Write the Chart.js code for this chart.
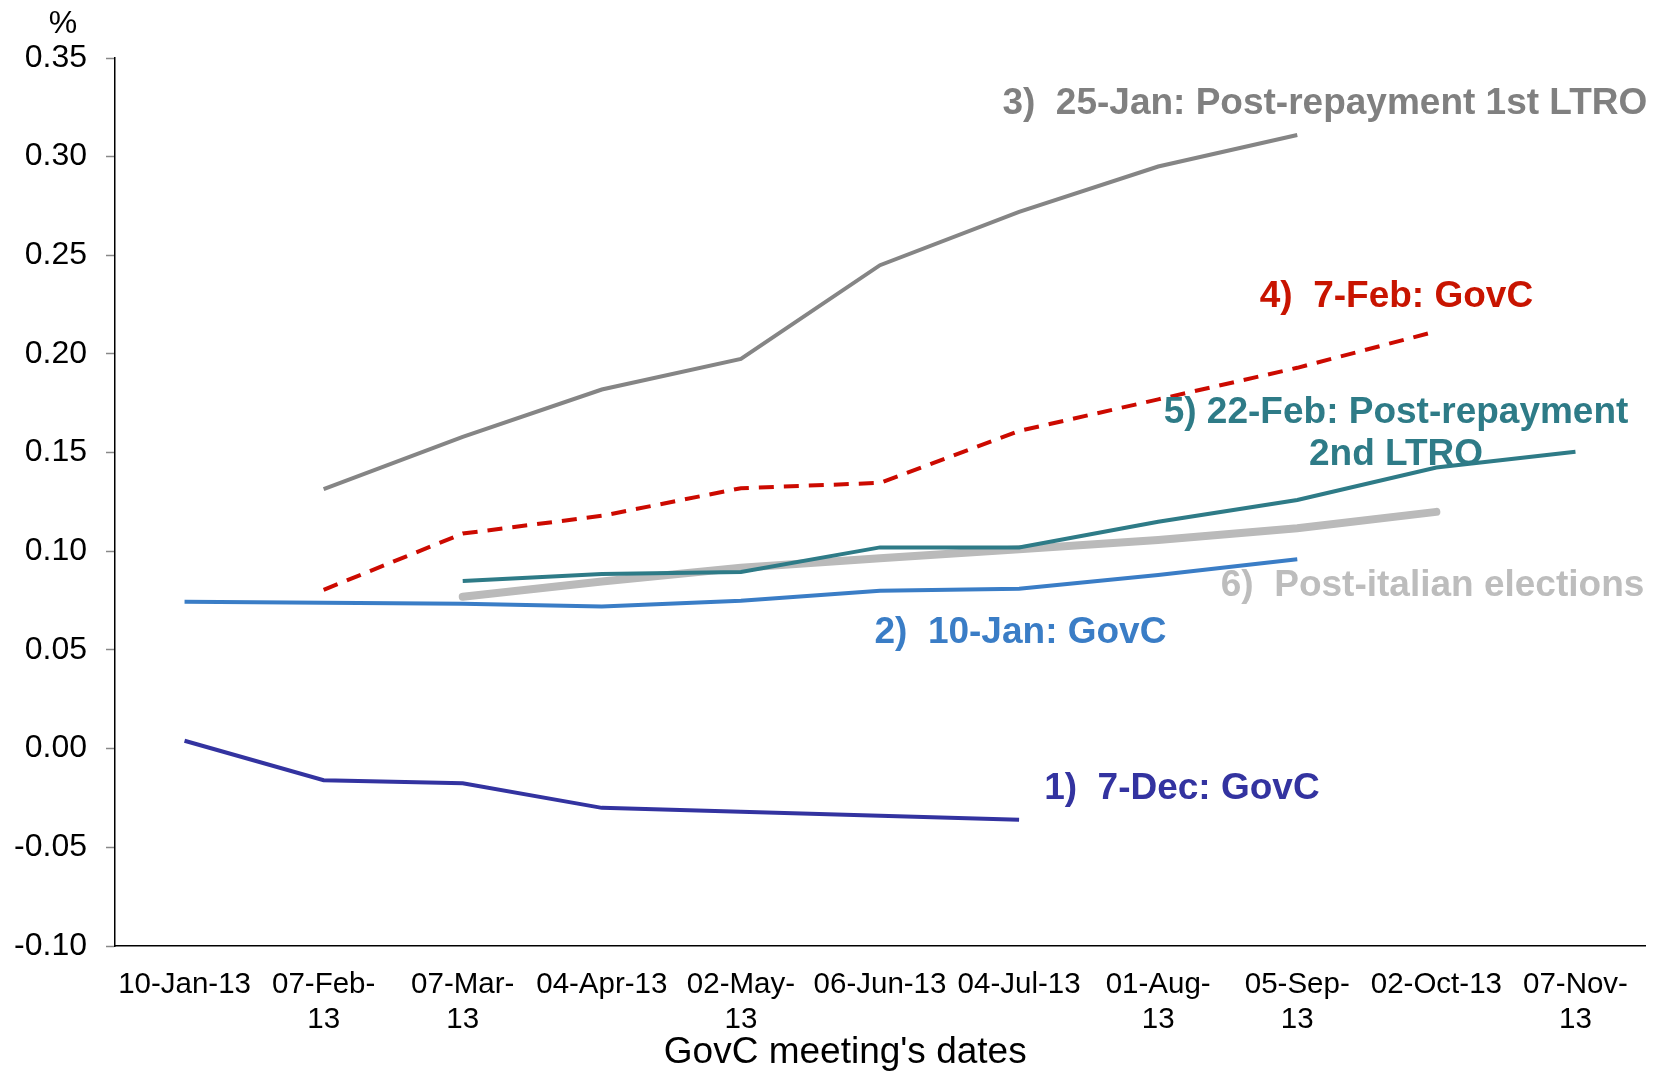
<!DOCTYPE html>
<html>
<head>
<meta charset="utf-8">
<script src="https://cdn.jsdelivr.net/npm/chart.js@4.4.1/dist/chart.umd.min.js"></script>
<style>
  html, body { margin: 0; padding: 0; background: #fff; }
  #wrap { width: 1661px; height: 1074px; }
</style>
</head>
<body>
<div id="wrap"><canvas id="chart"></canvas></div>
<script>
// GovC meeting dates (x axis)
const meetingDates = [
    '10-Jan-13', ['07-Feb-', '13'], ['07-Mar-', '13'], '04-Apr-13', ['02-May-', '13'],
    '06-Jun-13', '04-Jul-13', ['01-Aug-', '13'], ['05-Sep-', '13'], '02-Oct-13', ['07-Nov-', '13']
];

// series values (%)
const dec7GovC      = [0.004, -0.016, -0.0175, -0.030, -0.032, -0.034, -0.036, null, null, null, null];
const jan10GovC     = [0.0745, 0.074, 0.0735, 0.072, 0.075, 0.080, 0.081, 0.088, 0.096, null, null];
const jan25PostLtro = [null, 0.1315, 0.158, 0.182, 0.1975, 0.245, 0.272, 0.295, 0.311, null, null];
const feb7GovC      = [null, 0.0805, 0.109, 0.118, 0.132, 0.1347, 0.161, 0.177, 0.193, 0.2115, null];
const feb22PostLtro = [null, null, 0.085, 0.0885, 0.0895, 0.102, 0.102, 0.115, 0.126, 0.1425, 0.1505];
const postItalian   = [null, null, 0.077, 0.0847, 0.0917, 0.0965, 0.101, 0.1057, 0.1117, 0.120, null];

const yTicks = [-0.10, -0.05, 0.00, 0.05, 0.10, 0.15, 0.20, 0.25, 0.30, 0.35];

// in-chart labels: x as category index, y as value
const notes = [
    { lines: ['3)  25-Jan: Post-repayment 1st LTRO'], x: 5.88, y: 0.327, color: '#808080', align: 'left' },
    { lines: ['4)  7-Feb: GovC'], x: 7.73, y: 0.229, color: '#c81400', align: 'left' },
    { lines: ['5) 22-Feb: Post-repayment', '2nd LTRO'], x: 8.71, y: 0.170, color: '#2e7b87', align: 'center' },
    { lines: ['6)  Post-italian elections'], x: 7.45, y: 0.0825, color: '#bdbdbd', align: 'left' },
    { lines: ['2)  10-Jan: GovC'], x: 4.96, y: 0.0586, color: '#3a7dc6', align: 'left' },
    { lines: ['1)  7-Dec: GovC'], x: 6.18, y: -0.0204, color: '#3333a0', align: 'left' }
];
const xTitle = "GovC meeting's dates";

const FONT = "'Liberation Sans', Arial, sans-serif";

const notesPlugin = {
    id: 'notes',
    afterDatasetsDraw(chart) {
        const { ctx, scales: { x, y }, chartArea } = chart;
        ctx.save();
        ctx.font = 'bold 37px ' + FONT;
        ctx.textBaseline = 'middle';
        notes.forEach(n => {
            ctx.fillStyle = n.color;
            ctx.textAlign = n.align;
            const px = x.getPixelForValue(n.x);
            const py = y.getPixelForValue(n.y);
            n.lines.forEach((t, i) => ctx.fillText(t, px, py + i * 42));
        });
        ctx.fillStyle = '#000';
        ctx.textAlign = 'center';
        // unit label above the y axis
        ctx.font = '32px ' + FONT;
        ctx.fillText('%', chartArea.left - 52, chartArea.top - 34);
        // x axis title, sits a little left of the plot centre
        ctx.font = '37px ' + FONT;
        ctx.fillText(xTitle, x.getPixelForValue(4.75), chartArea.bottom + 107);
        ctx.restore();
    }
};

const line = (data, color, width, extra) => Object.assign({
    data, borderColor: color, borderWidth: width, pointRadius: 0, tension: 0,
    spanGaps: false, fill: false
}, extra || {});

new Chart(document.getElementById('chart'), {
    type: 'line',
    data: {
        labels: meetingDates,
        datasets: [
            line(dec7GovC, '#3333a0', 4, { order: 1 }),
            line(jan10GovC, '#3a7dc6', 4, { order: 2 }),
            line(jan25PostLtro, '#858585', 4, { order: 3 }),
            line(feb7GovC, '#cc0a00', 4, { order: 4, borderDash: [15, 10] }),
            line(feb22PostLtro, '#2e7b87', 4, { order: 5 }),
            line(postItalian, '#bababa', 8, { order: 6, borderCapStyle: 'round' })
        ]
    },
    options: {
        responsive: true,
        maintainAspectRatio: false,
        animation: false,
        layout: { padding: { top: 58, right: 16, left: 0, bottom: 0 } },
        plugins: { legend: { display: false }, tooltip: { enabled: false } },
        scales: {
            x: {
                offset: true,
                grid: { display: false },
                border: { display: true, color: '#000', width: 1.5 },
                ticks: {
                    color: '#000', font: { family: FONT, size: 29.5, lineHeight: 1.2 },
                    maxRotation: 0, autoSkip: false, padding: 13
                },
                afterFit: s => { s.height = 128; }
            },
            y: {
                min: -0.10, max: 0.35,
                afterBuildTicks: s => { s.ticks = yTicks.map(v => ({ value: v })); },
                grid: { drawOnChartArea: false, drawTicks: true, tickLength: 9, tickColor: '#888', tickWidth: 1.5 },
                border: { display: true, color: '#000', width: 1.5 },
                ticks: {
                    color: '#000', font: { family: FONT, size: 32 }, padding: 19,
                    callback: v => v.toFixed(2)
                },
                afterFit: s => { s.width = 115; }
            }
        }
    },
    plugins: [notesPlugin]
});
</script>
</body>
</html>
